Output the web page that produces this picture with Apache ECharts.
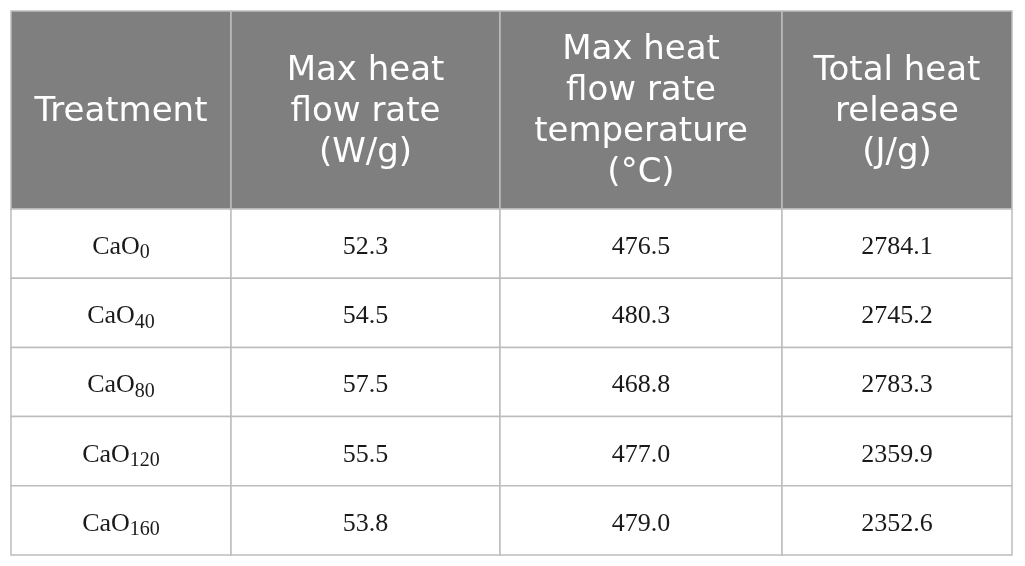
<!DOCTYPE html>
<html>
<head>
<meta charset="utf-8">
<script src="https://cdn.jsdelivr.net/npm/echarts@6/dist/echarts.min.js"></script>
<style>
html,body{margin:0;padding:0;background:#fff;}
#main{width:1025px;height:566px;}
</style>
</head>
<body>
<div id="main"></div>
<script>
// ---- data ----
const columnHeaders = ['Treatment', 'Max heat\nflow rate\n(W/g)', 'Max heat\nflow rate\ntemperature\n(°C)', 'Total heat\nrelease\n(J/g)'];
const treatmentBase = ['CaO', 'CaO', 'CaO', 'CaO', 'CaO'];
const treatmentSub = ['0', '40', '80', '120', '160'];
const maxHeatFlowRate = [52.3, 54.5, 57.5, 55.5, 53.8];
const maxHeatFlowTemp = [476.5, 480.3, 468.8, 477.0, 479.0];
const totalHeatRelease = [2784.1, 2745.2, 2783.3, 2359.9, 2352.6];

// ---- layout (axis units) ----
const COL_W = [220, 269, 282, 230];
const HEADER_H = 198, ROW_H = 69.2;
const colEdges = [0];
COL_W.forEach(w => colEdges.push(colEdges[colEdges.length - 1] + w));
const rowEdges = [0, HEADER_H];
for (let i = 0; i < treatmentBase.length; i++) rowEdges.push(rowEdges[rowEdges.length - 1] + ROW_H);

// ---- cells ----
const cells = [];
columnHeaders.forEach((h, c) => cells.push({ value: [c, 0], text: h, header: true }));
treatmentBase.forEach((t, r) => {
  cells.push({ value: [0, r + 1], text: '{m|' + t + '}{s|' + treatmentSub[r] + '}' });
  cells.push({ value: [1, r + 1], text: '{m|' + maxHeatFlowRate[r].toFixed(1) + '}' });
  cells.push({ value: [2, r + 1], text: '{m|' + maxHeatFlowTemp[r].toFixed(1) + '}' });
  cells.push({ value: [3, r + 1], text: '{m|' + totalHeatRelease[r].toFixed(1) + '}' });
});

const chart = echarts.init(document.getElementById('main'));
chart.setOption({
  backgroundColor: '#ffffff',
  animation: false,
  grid: { left: 11, right: 13, top: 11, bottom: 11 },
  xAxis: { type: 'value', min: 0, max: colEdges[colEdges.length - 1], show: false },
  yAxis: { type: 'value', min: 0, max: rowEdges[rowEdges.length - 1], inverse: true, show: false },
  series: [{
    type: 'custom',
    coordinateSystem: 'cartesian2d',
    data: cells.map(c => c.value),
    renderItem: function (params, api) {
      const c = api.value(0), r = api.value(1);
      const cell = cells[params.dataIndex];
      const p0 = api.coord([colEdges[c], rowEdges[r]]);
      const p1 = api.coord([colEdges[c + 1], rowEdges[r + 1]]);
      const cx = (p0[0] + p1[0]) / 2, cy = (p0[1] + p1[1]) / 2;
      const rect = {
        type: 'rect',
        shape: { x: p0[0], y: p0[1], width: p1[0] - p0[0], height: p1[1] - p0[1] },
        style: { fill: cell.header ? '#7f7f7f' : '#ffffff', stroke: '#bdbdbd', lineWidth: 1.5 }
      };
      let text;
      if (cell.header) {
        text = {
          type: 'text',
          style: {
            x: cx, y: cy + 2, text: cell.text, align: 'center', verticalAlign: 'middle',
            fill: '#ffffff', fontFamily: 'DejaVu Sans', fontSize: 34, lineHeight: 41
          }
        };
      } else {
        text = {
          type: 'text',
          style: {
            x: cx, y: cy + 5, text: cell.text, align: 'center', verticalAlign: 'middle',
            rich: {
              m: { fontFamily: 'Liberation Serif', fontSize: 26, fill: '#1a1a1a', verticalAlign: 'top', lineHeight: 29 },
              s: { fontFamily: 'Liberation Serif', fontSize: 20, fill: '#1a1a1a', verticalAlign: 'top', lineHeight: 29, padding: [9, 0, 0, 0] }
            }
          }
        };
      }
      return { type: 'group', children: [rect, text] };
    }
  }]
});
</script>
</body>
</html>
